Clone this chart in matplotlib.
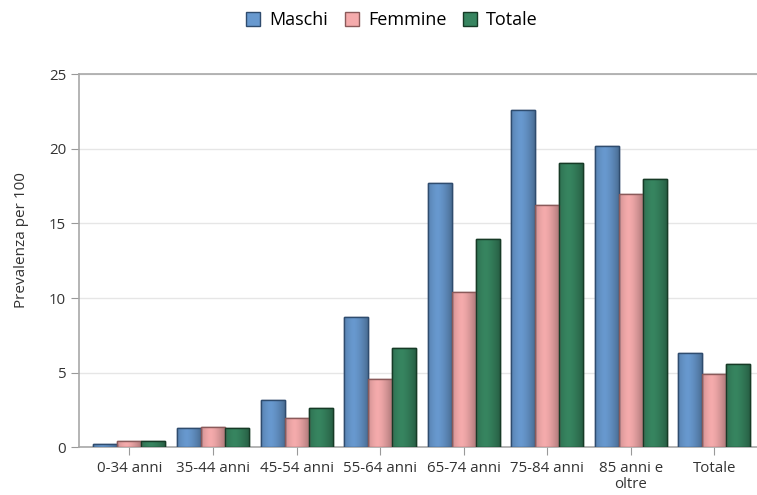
import matplotlib
matplotlib.use("Agg")
import matplotlib.pyplot as plt
import matplotlib.colors as mcolors
import numpy as np

plt.rcParams['font.family'] = ['Open Sans', 'DejaVu Sans']

# data
categories = ['0-34 anni', '35-44 anni', '45-54 anni', '55-64 anni',
              '65-74 anni', '75-84 anni', '85 anni e\noltre', 'Totale']
maschi = [0.2, 1.3, 3.2, 8.75, 17.7, 22.6, 20.2, 6.3]
femmine = [0.45, 1.35, 1.95, 4.6, 10.4, 16.25, 16.95, 4.9]
totale = [0.4, 1.3, 2.6, 6.65, 13.95, 19.05, 18.0, 5.6]

series = [('Maschi', maschi, '#6899cf', '#2f4c6e'),
          ('Femmine', femmine, '#f5abac', '#8a5a5a'),
          ('Totale', totale, '#378560', '#163a26')]

fig = plt.figure(figsize=(7.57, 4.95), dpi=100)
ax = fig.add_axes([0.1048, 0.0964, 0.8952, 0.7536])

x = np.arange(len(categories))
w = 0.287
# horizontal shading across each bar: darker at the sides
t = np.linspace(0, 1, 64)
shade = 1 - 0.28 * np.abs(t - 0.4) ** 1.5 / 0.6 ** 1.5
for i, (name, vals, col, edge) in enumerate(series):
    bars = ax.bar(x + (i - 1) * w, vals, width=w, color=col, edgecolor=edge,
                  linewidth=1.0, label=name, zorder=3)
    rgb = np.array(mcolors.to_rgb(col))
    img = (shade[:, None] * rgb[None, :])[None, :, :]
    for b in bars:
        x0, y0 = b.get_x(), b.get_y()
        im = ax.imshow(img, extent=[x0, x0 + b.get_width(), y0, y0 + b.get_height()],
                       aspect='auto', zorder=3.5, interpolation='bilinear')
        im.set_clip_path(b)
        ax.add_patch(plt.Rectangle((x0, y0), b.get_width(), b.get_height(),
                                   fill=False, edgecolor=edge, linewidth=1.0, zorder=4))

ax.set_xlim(-0.6, 7.51)
ax.set_ylim(0, 25)
ax.set_yticks([0, 5, 10, 15, 20, 25])
ax.set_xticks(x)
ax.set_xticklabels(categories, fontsize=10.8, color='#333333', linespacing=1.1)
ax.tick_params(axis='y', labelsize=10.8, labelcolor='#333333', length=6, color='#999999')
ax.tick_params(axis='x', length=6, color='#999999', pad=4)
ax.yaxis.grid(True, color='#e6e6e6', linewidth=1.0, zorder=0)
ax.set_axisbelow(True)
for s in ['left', 'top', 'bottom']:
    ax.spines[s].set_color('#a8a8a8')
    ax.spines[s].set_linewidth(1.2)
ax.spines['right'].set_visible(False)
ax.set_ylabel('Prevalenza per 100', fontsize=11, color='#333333', labelpad=12)
ax.yaxis.set_label_coords(-0.075, 0.555)

fig.legend(loc='center', bbox_to_anchor=(392 / 757, 1 - 20 / 495), ncol=3,
           frameon=False, fontsize=13, handlelength=0.8, handleheight=0.8,
           handletextpad=0.5, columnspacing=0.9)

fig.savefig('out.png', dpi=100)
